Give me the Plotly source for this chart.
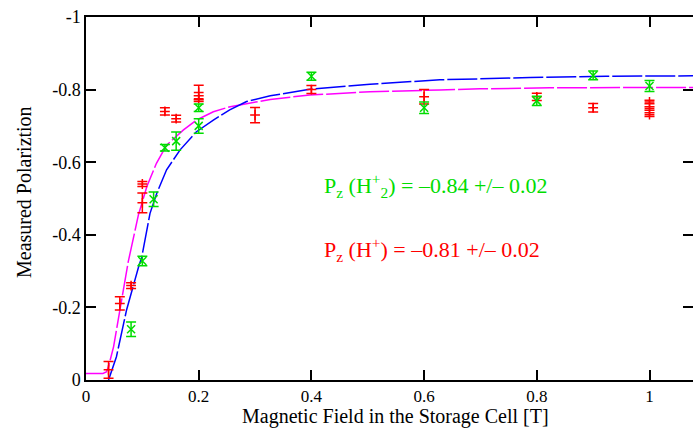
import plotly.graph_objects as go

# H+ data (red)
x_h = [0.04, 0.06, 0.08, 0.10, 0.10, 0.14, 0.16, 0.20, 0.20, 0.30, 0.40, 0.60, 0.80, 0.90, 1.00, 1.00, 1.00]
y_h = [-0.028, -0.211, -0.26, -0.488, -0.54, -0.74, -0.72, -0.792, -0.775, -0.73, -0.80, -0.78, -0.78, -0.75, -0.766, -0.748, -0.731]
e_h = [0.023, 0.018, 0.008, 0.027, 0.007, 0.01, 0.009, 0.02, 0.008, 0.021, 0.011, 0.02, 0.01, 0.012, 0.005, 0.005, 0.005]

# H2+ data (green)
x_h2 = [0.08, 0.10, 0.12, 0.14, 0.16, 0.20, 0.20, 0.40, 0.60, 0.80, 0.90, 1.00]
y_h2 = [-0.14, -0.328, -0.498, -0.64, -0.658, -0.75, -0.70, -0.837, -0.75, -0.769, -0.839, -0.81]
e_h2 = [0.02, 0.013, 0.02, 0.009, 0.025, 0.01, 0.02, 0.011, 0.016, 0.013, 0.012, 0.015]

# Fit curve for H2+ (blue)
fit_h2_x = [0.04, 0.054, 0.072, 0.084, 0.093, 0.099, 0.1136, 0.1255, 0.143, 0.167, 0.196, 0.226, 0.255, 0.285, 0.327, 0.397, 0.504, 0.628, 0.699, 0.788, 0.923, 1.08]
fit_h2_y = [0.0, -0.064, -0.193, -0.262, -0.31, -0.339, -0.459, -0.514, -0.579, -0.634, -0.684, -0.716, -0.744, -0.767, -0.783, -0.801, -0.815, -0.827, -0.83, -0.833, -0.837, -0.838]

# Fit curve for H+ (magenta)
fit_h_x = [0.0, 0.03, 0.036, 0.04, 0.049, 0.057, 0.066, 0.075, 0.084, 0.093, 0.108, 0.125, 0.143, 0.173, 0.196, 0.226, 0.256, 0.285, 0.327, 0.397, 0.504, 0.628, 0.699, 0.823, 1.08]
fit_h_y = [-0.018, -0.018, -0.022, -0.037, -0.092, -0.165, -0.25, -0.326, -0.39, -0.455, -0.533, -0.597, -0.647, -0.689, -0.716, -0.739, -0.753, -0.762, -0.773, -0.785, -0.794, -0.799, -0.802, -0.805, -0.806]

x_ticks = [0, 0.2, 0.4, 0.6, 0.8, 1.0]
x_tick_text = ["0", "0.2", "0.4", "0.6", "0.8", "1"]
y_ticks = [0, -0.2, -0.4, -0.6, -0.8, -1.0]
y_tick_text = ["0", "-0.2", "-0.4", "-0.6", "-0.8", "-1"]

RED = "#ff0000"
GREEN = "#00dd00"
BLUE = "#0000ff"
MAGENTA = "#ff00ff"
FONT = "Liberation Serif"

fig = go.Figure()

fig.add_trace(go.Scatter(x=fit_h_x, y=fit_h_y, mode="lines",
                         line=dict(color=MAGENTA, width=1.5, dash="30px,3px"),
                         showlegend=False, hoverinfo="skip"))
fig.add_trace(go.Scatter(x=fit_h2_x, y=fit_h2_y, mode="lines",
                         line=dict(color=BLUE, width=1.5, dash="30px,3px"),
                         showlegend=False, hoverinfo="skip"))

fig.add_trace(go.Scatter(x=x_h, y=y_h, mode="markers",
                         marker=dict(symbol="cross-thin", size=7, color=RED,
                                     line=dict(color=RED, width=1.5)),
                         error_y=dict(type="data", array=e_h, color=RED, thickness=1.5, width=5),
                         showlegend=False))
fig.add_trace(go.Scatter(x=x_h2, y=y_h2, mode="markers",
                         marker=dict(symbol="x-thin", size=8, color=GREEN,
                                     line=dict(color=GREEN, width=1.5)),
                         error_y=dict(type="data", array=e_h2, color=GREEN, thickness=1.5, width=5),
                         showlegend=False))

fig.add_annotation(x=0.418, y=-0.535, xref="x", yref="y", xanchor="left", yanchor="middle",
                   text="P<sub>z</sub> (H<sup>+</sup><sub>2</sub>) = \u20130.84 +/\u2013 0.02",
                   showarrow=False, font=dict(family=FONT, size=22, color=GREEN))
fig.add_annotation(x=0.418, y=-0.36, xref="x", yref="y", xanchor="left", yanchor="middle",
                   text="P<sub>z</sub> (H<sup>+</sup>) = \u20130.81 +/\u2013 0.02",
                   showarrow=False, font=dict(family=FONT, size=22, color=RED))

W, H = 693, 432
ML, MR, MT, MB = 86, 0, 17, 52
pw, ph = W - ML - MR, H - MT - MB

# axis titles as annotations, positioned in pixels converted to paper coords
fig.add_annotation(x=(395 - ML) / pw, y=(H - MB - 416) / ph, xref="paper", yref="paper",
                   text="Magnetic Field in the Storage Cell [T]",
                   showarrow=False, font=dict(family=FONT, size=20, color="black"),
                   xanchor="center", yanchor="middle")
fig.add_annotation(x=(24 - ML) / pw, y=(H - MB - 192) / ph, xref="paper", yref="paper",
                   text="Measured Polariztion",
                   showarrow=False, textangle=-90, font=dict(family=FONT, size=20, color="black"),
                   xanchor="center", yanchor="middle")

fig.update_layout(
    width=W, height=H,
    margin=dict(l=ML, r=MR, t=MT, b=MB, autoexpand=False),
    paper_bgcolor="white", plot_bgcolor="white",
    font=dict(family=FONT, size=18, color="black"),
    showlegend=False,
)
fig.update_xaxes(range=[0, 1.0772], tickvals=x_ticks, ticktext=x_tick_text,
                 ticks="inside", ticklen=10, tickwidth=1.5, tickcolor="black",
                 showline=True, linecolor="black", linewidth=1.5, mirror="ticks",
                 showgrid=False, zeroline=False, automargin=False,
                 tickfont=dict(family=FONT, size=17, color="black"))
fig.update_yaxes(range=[0, -1], tickvals=y_ticks, ticktext=y_tick_text,
                 ticks="inside", ticklen=10, tickwidth=1.5, tickcolor="black",
                 showline=True, linecolor="black", linewidth=1.5, mirror="ticks",
                 showgrid=False, zeroline=False, automargin=False,
                 tickfont=dict(family=FONT, size=18, color="black"))

fig.write_html("out.html", config={"displayModeBar": False})

# remove the browser's default page margin so the figure sits at the window's corner
with open("out.html", "r", encoding="utf-8") as f:
    html = f.read()
html = html.replace("<head>", "<head><style>html,body{margin:0;padding:0;overflow:hidden;}</style>", 1)
with open("out.html", "w", encoding="utf-8") as f:
    f.write(html)
